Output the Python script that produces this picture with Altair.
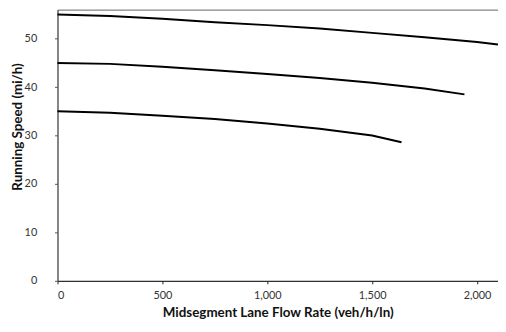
import altair as alt
import pandas as pd

flow_55 = [0, 250, 500, 750, 1000, 1250, 1500, 1750, 2000, 2100]
speed_55 = [55.0, 54.7, 54.1, 53.4, 52.8, 52.1, 51.2, 50.3, 49.3, 48.8]

flow_45 = [0, 250, 500, 750, 1000, 1250, 1500, 1750, 1940]
speed_45 = [45.0, 44.8, 44.2, 43.5, 42.7, 41.9, 40.9, 39.7, 38.5]

flow_35 = [0, 250, 500, 750, 1000, 1250, 1500, 1640]
speed_35 = [35.0, 34.7, 34.1, 33.4, 32.5, 31.4, 30.0, 28.6]

rows = []
for name, fl, sp in [("55", flow_55, speed_55), ("45", flow_45, speed_45), ("35", flow_35, speed_35)]:
    for f, s in zip(fl, sp):
        rows.append({"series": name, "flow": f, "speed": s})
df = pd.DataFrame(rows)

font = "Lato"

chart = alt.Chart(df).mark_line(color="black", strokeWidth=2).encode(
    x=alt.X("flow:Q",
            scale=alt.Scale(domain=[0, 2100], nice=False, zero=True),
            axis=alt.Axis(values=[0, 500, 1000, 1500, 2000], format=",d",
                          title="Midsegment Lane Flow Rate (veh/h/ln)",
                          grid=False, tickSize=3, labelPadding=6,
                          labelFontSize=11, labelColor="#333", labelFont=font,
                          titleFont=font, titleFontSize=13.5, titleFontWeight="bold",
                          titleColor="#111", titlePadding=5,
                          domainColor="#222", tickColor="#222")),
    y=alt.Y("speed:Q",
            scale=alt.Scale(domain=[0, 56], nice=False),
            axis=alt.Axis(values=[0, 10, 20, 30, 40, 50],
                          title="Running Speed (mi/h)",
                          grid=False, tickSize=3, labelPadding=18,
                          labelFontSize=11, labelColor="#333", labelFont=font,
                          titleFont=font, titleFontSize=13.5, titleFontWeight="bold",
                          titleColor="#111", titleX=-33, titleY=118,
                          domainColor="#555", tickColor="#555")),
    detail="series:N",
).properties(
    width=445, height=274,
    padding={"left": 50, "top": 0, "right": 0, "bottom": 48},
    autosize=alt.AutoSizeParams(type="none"),
).configure_view(stroke="#666", strokeWidth=1)

chart.save("out.html", embed_options={"renderer": "svg", "actions": False})
